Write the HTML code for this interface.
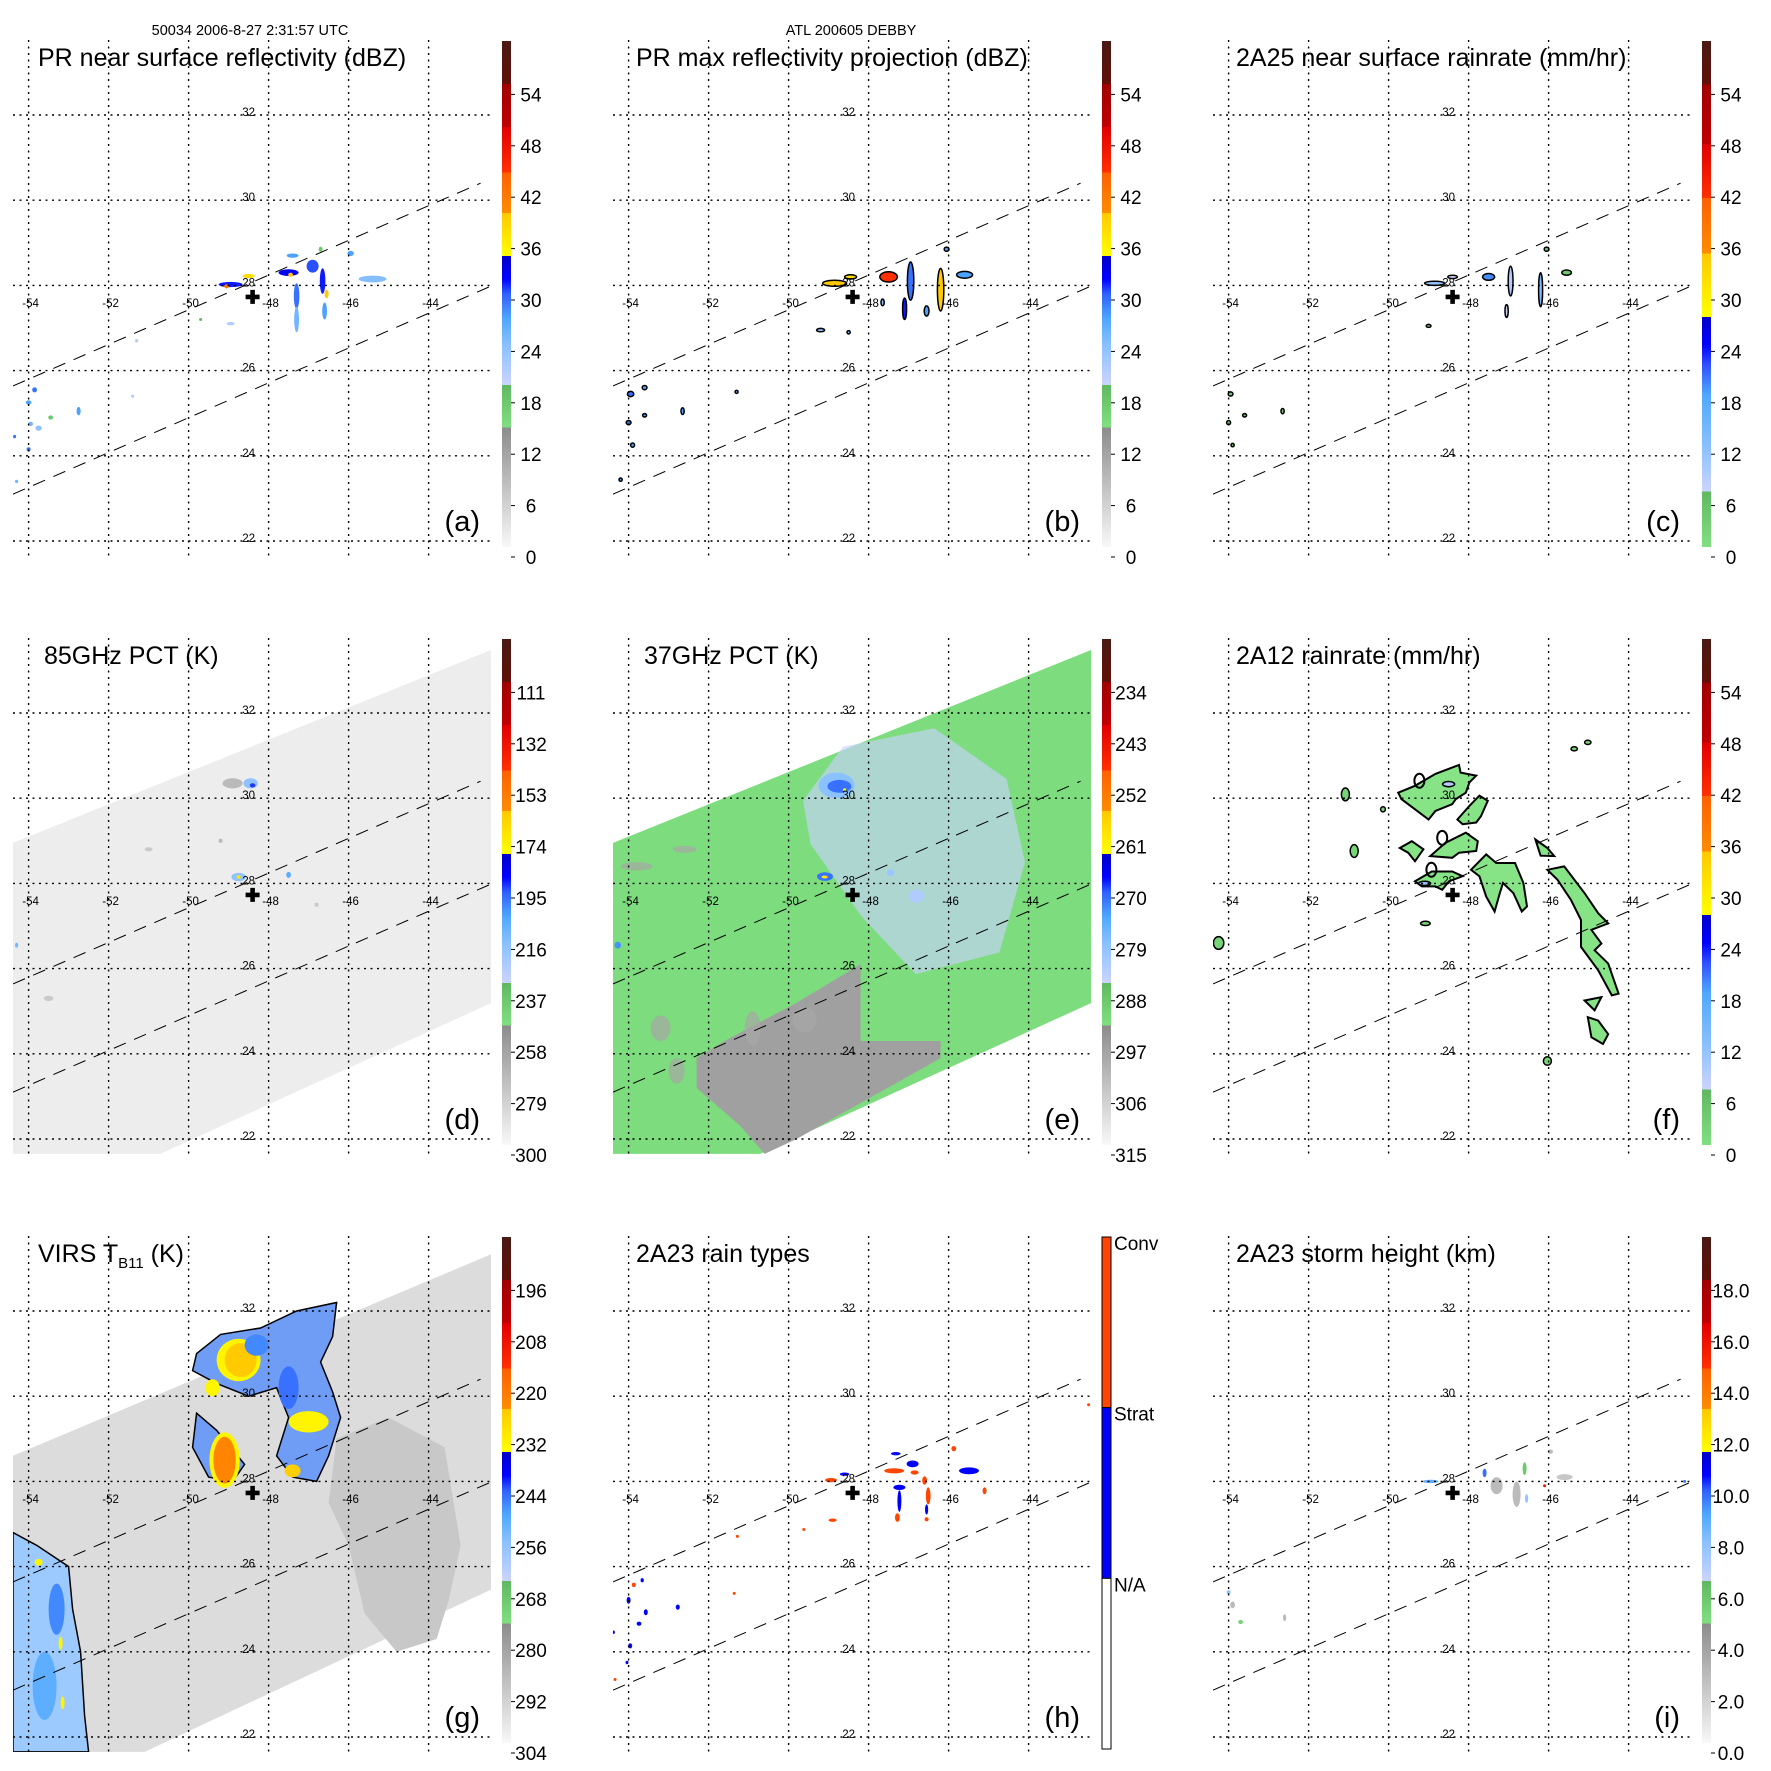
<!DOCTYPE html>
<html><head><meta charset="utf-8"><title>DEBBY TRMM overpass</title>
<style>
html,body{margin:0;padding:0;background:#fff}
svg{display:block}
text{font-family:"Liberation Sans",Arial,sans-serif;fill:#000}
</style></head>
<body>
<svg id="fig" width="1771" height="1771" viewBox="0 0 1771 1771" xmlns="http://www.w3.org/2000/svg">
<defs id="defs"></defs>
<text x="250" y="35" font-size="14.5" text-anchor="middle">50034 2006-8-27 2:31:57 UTC</text>
<text x="851" y="35" font-size="14.5" text-anchor="middle">ATL 200605 DEBBY</text>
<g id="panels"></g>
<g id="titles">
<text x="38" y="66" font-size="25">PR near surface reflectivity (dBZ)</text>
<text x="636" y="66" font-size="25">PR max reflectivity projection (dBZ)</text>
<text x="1236" y="66" font-size="25">2A25 near surface rainrate (mm/hr)</text>
<text x="44" y="664" font-size="25">85GHz PCT (K)</text>
<text x="644" y="664" font-size="25">37GHz PCT (K)</text>
<text x="1236" y="664" font-size="25">2A12 rainrate (mm/hr)</text>
<text x="38" y="1262" font-size="25">VIRS T<tspan font-size="15" dy="6">B11</tspan><tspan dy="-6"> (K)</tspan></text>
<text x="636" y="1262" font-size="25">2A23 rain types</text>
<text x="1236" y="1262" font-size="25">2A23 storm height (km)</text>
</g>
</svg>
<script>
// ---------- axis ticks ----------
const lonTicks=[-54,-52,-50,-48,-46,-44];
const latTicks=[22,24,26,28,30,32];
const centerLonLat=[-48.4,27.73];
const swathUpper=[[-54.39,25.64],[-42.7,30.4]];
const swathLower=[[-54.39,23.1],[-42.4,28.0]];

// colorbar labels (bottom -> top)
const labelsDBZ=["0","6","12","18","24","30","36","42","48","54"];
const labels85=["300","279","258","237","216","195","174","153","132","111"];
const labels37=["315","306","297","288","279","270","261","252","243","234"];
const labelsVirs=["304","292","280","268","256","244","232","220","208","196"];
const labelsHt=["0.0","2.0","4.0","6.0","8.0","10.0","12.0","14.0","16.0","18.0"];
const labelsType=["N/A","Strat","Conv"];

// ---------- swath backgrounds (lon,lat) ----------
const tmiSwath=[[-54.39,28.95],[-42.44,33.48],[-42.44,25.19],[-50.71,21.65],[-54.39,21.65]];
const virsSwath=[[-54.39,28.6],[-42.44,33.33],[-42.44,25.46],[-51.1,21.65],[-54.39,21.65]];
const eGrayArea=[[-52.3,23.9],[-51.6,24.3],[-49.8,25.2],[-48.2,26.1],[-48.2,24.3],[-46.2,24.3],[-46.2,23.9],[-49.8,22],[-50.6,21.65],[-51.2,22.3],[-52.3,23.2]];
const eGraySpecks=[[-53.2,24.6,0.25,0.3],[-52.8,23.6,0.2,0.3],[-53.8,28.4,0.4,0.1],[-52.6,28.8,0.3,0.08],[-50.9,24.6,0.2,0.4],[-49.6,24.8,0.3,0.3]];
const eIceArea=[[-48.64,31.21],[-46.36,31.64],[-44.55,30.45],[-44.09,28.5],[-44.73,26.38],[-46.82,25.87],[-48.18,27.23],[-49.45,28.92],[-49.64,29.94]];
const gDarkArea=[[-46.3,29.0],[-45.0,29.5],[-43.6,28.8],[-43.2,26.5],[-43.5,25.2],[-43.8,24.3],[-44.8,24.0],[-45.6,24.9],[-46.0,26.5],[-46.5,27.5]];
const gCloudNorth=[[-49.8,31.0],[-49.2,31.45],[-48.2,31.6],[-47.3,32.0],[-46.3,32.2],[-46.4,31.4],[-46.7,30.8],[-46.4,30.1],[-46.2,29.5],[-46.5,28.6],[-46.8,28.0],[-47.4,28.1],[-47.8,28.6],[-47.5,29.5],[-47.8,30.2],[-48.5,30.0],[-49.3,30.3],[-49.9,30.6]];
const gCloudTail=[[-49.8,29.6],[-49.3,29.2],[-48.6,28.4],[-48.9,28.0],[-49.5,28.1],[-49.9,28.8]];
const gCloudWest=[[-54.39,26.8],[-53.8,26.5],[-53.0,26.0],[-52.9,25.0],[-52.7,24.0],[-52.6,22.5],[-52.5,21.65],[-54.39,21.65]];

// ---------- cells: [lon, lat, value, rxDeg, ryDeg] ----------
const aCells=[[-48.95,28.02,32,0.3,0.06],[-49.05,27.98,42,0.06,0.05],[-48.5,28.22,38,0.15,0.05],[-47.4,28.7,28,0.15,0.05],[-47.5,28.3,33,0.25,0.08],[-47.45,28.25,40,0.06,0.05],[-46.9,28.45,31,0.15,0.15],[-46.65,28.1,32,0.07,0.3],[-46.55,27.8,40,0.05,0.1],[-46.6,27.4,28,0.06,0.2],[-47.3,27.75,30,0.07,0.3],[-47.3,27.2,26,0.06,0.3],[-46.7,28.85,18,0.05,0.06],[-45.95,28.75,28,0.08,0.06],[-45.4,28.15,25,0.35,0.08],[-48.95,27.1,22,0.1,0.04],[-53.85,25.55,30,0.06,0.06],[-54.0,25.25,28,0.07,0.05],[-53.95,24.75,26,0.06,0.05],[-53.75,24.65,24,0.08,0.06],[-53.45,24.9,18,0.06,0.05],[-54.0,24.15,30,0.05,0.05],[-52.75,25.05,28,0.05,0.1],[-54.35,24.45,30,0.03,0.04],[-54.3,23.4,26,0.04,0.04],[-51.3,26.7,22,0.04,0.04],[-51.4,25.4,22,0.04,0.03],[-49.7,27.2,20,0.03,0.03]];
const bCells=[[-48.85,28.05,40,0.3,0.07],[-48.45,28.2,38,0.15,0.05],[-47.5,28.2,45,0.22,0.12],[-46.95,28.1,30,0.08,0.45],[-47.1,27.45,32,0.05,0.25],[-46.2,27.9,40,0.08,0.5],[-45.6,28.25,28,0.2,0.08],[-46.05,28.85,28,0.06,0.05],[-46.55,27.4,28,0.06,0.12],[-47.65,27.6,25,0.04,0.08],[-48.5,26.9,25,0.04,0.04],[-49.2,26.95,25,0.1,0.04],[-53.95,25.45,30,0.08,0.06],[-54.0,24.78,30,0.06,0.05],[-53.9,24.25,28,0.05,0.05],[-54.2,23.44,28,0.04,0.04],[-52.65,25.05,28,0.04,0.08],[-53.6,24.95,28,0.05,0.04],[-51.3,25.5,25,0.03,0.03],[-53.6,25.6,28,0.06,0.05]];
const cCells=[[-48.85,28.05,12,0.25,0.05],[-48.4,28.2,8,0.12,0.04],[-47.5,28.2,20,0.15,0.08],[-46.95,28.1,10,0.06,0.35],[-46.2,27.9,14,0.05,0.4],[-45.55,28.3,5,0.12,0.06],[-46.05,28.85,5,0.06,0.05],[-47.05,27.4,8,0.04,0.15],[-53.95,25.45,5,0.06,0.05],[-54.0,24.78,5,0.05,0.05],[-53.9,24.25,5,0.04,0.04],[-52.65,25.05,5,0.04,0.06],[-53.6,24.95,5,0.05,0.04],[-49.0,27.05,5,0.06,0.03]];
const dCells=[[-48.9,30.35,268,0.25,0.12],[-48.45,30.35,215,0.18,0.12],[-48.4,30.3,190,0.07,0.05],[-48.75,28.15,215,0.18,0.1],[-48.75,28.15,170,0.05,0.04],[-47.5,28.2,205,0.06,0.07],[-54.3,26.55,210,0.04,0.06],[-49.2,29.0,268,0.05,0.05],[-51.0,28.8,275,0.1,0.05],[-46.8,27.5,275,0.05,0.05],[-53.5,25.3,275,0.12,0.06]];
const eCells=[[-48.8,30.3,278,0.45,0.3],[-48.73,30.28,270,0.3,0.15],[-48.6,30.2,262,0.04,0.03],[-49.09,28.16,270,0.2,0.1],[-49.1,28.15,258,0.08,0.03],[-47.45,28.25,280,0.1,0.08],[-46.8,27.7,282,0.2,0.15],[-54.27,26.55,272,0.08,0.08]];
const gCells=[[-48.75,30.85,232,0.55,0.5],[-48.7,30.85,224,0.4,0.4],[-49.1,28.5,232,0.38,0.65],[-49.1,28.5,222,0.28,0.55],[-47.0,29.4,232,0.5,0.25],[-47.4,28.25,225,0.2,0.15],[-49.4,30.2,232,0.18,0.2],[-47.5,30.2,244,0.25,0.5],[-48.3,31.2,246,0.3,0.25],[-53.75,26.1,232,0.1,0.08],[-53.2,24.2,232,0.05,0.15],[-53.15,22.8,232,0.05,0.15],[-53.3,25.0,246,0.2,0.6],[-53.6,23.2,250,0.3,0.8]];
const hCells=[[-48.94,28.03,2,0.15,0.05],[-48.6,28.17,1,0.12,0.04],[-47.36,28.25,2,0.25,0.06],[-47.32,28.65,1,0.12,0.04],[-46.9,28.41,1,0.15,0.08],[-46.85,28.21,2,0.1,0.05],[-47.23,27.86,1,0.15,0.06],[-47.23,27.54,1,0.05,0.25],[-46.6,28.02,2,0.06,0.1],[-46.51,27.66,2,0.06,0.2],[-46.55,27.34,1,0.04,0.12],[-45.87,28.77,2,0.06,0.06],[-45.49,28.25,1,0.25,0.08],[-45.1,27.78,2,0.05,0.08],[-48.9,27.09,2,0.1,0.04],[-47.28,27.15,2,0.06,0.1],[-46.55,27.11,2,0.05,0.05],[-49.62,26.87,2,0.03,0.03],[-51.28,26.71,2,0.03,0.03],[-51.36,25.37,2,0.03,0.03],[-53.87,25.57,2,0.05,0.05],[-54.0,25.21,1,0.05,0.08],[-53.57,24.93,1,0.05,0.07],[-53.74,24.66,1,0.06,0.05],[-52.77,25.05,1,0.05,0.06],[-53.96,24.14,1,0.05,0.06],[-54.38,24.46,1,0.03,0.04],[-54.04,23.75,1,0.03,0.04],[-54.34,23.35,2,0.03,0.03],[-53.66,25.68,1,0.04,0.05],[-42.5,29.8,2,0.02,0.02],[-42.3,28.3,1,0.02,0.02]];
const iCells=[[-48.95,28.0,9,0.2,0.04],[-47.3,27.9,3,0.15,0.2],[-47.6,28.2,10,0.05,0.1],[-46.8,27.7,3,0.1,0.3],[-46.6,28.3,6,0.05,0.15],[-45.6,28.1,2.5,0.2,0.07],[-46.55,27.6,8,0.04,0.1],[-45.95,28.7,3,0.06,0.05],[-53.9,25.1,3,0.06,0.08],[-53.7,24.7,5.5,0.06,0.05],[-54.0,25.4,8,0.05,0.05],[-52.6,24.8,3,0.04,0.08],[-42.6,28.0,10,0.02,0.02],[-46.1,27.9,16,0.02,0.02]];

// ---------- 2A12 rain polygons (lon,lat) ----------
const fPolys=[
[[-49.76,30.13],[-49.34,30.29],[-48.83,30.57],[-48.24,30.78],[-48.2,30.6],[-47.81,30.53],[-47.98,30.37],[-48.07,30.13],[-48.32,29.98],[-48.41,29.86],[-48.83,29.7],[-49.0,29.5],[-49.34,29.74],[-49.68,29.98]],
[[-48.28,29.5],[-47.98,29.82],[-47.73,30.06],[-47.52,29.94],[-47.69,29.58],[-47.81,29.43],[-48.15,29.39]],
[[-48.96,28.64],[-48.58,28.95],[-48.07,29.19],[-47.77,28.99],[-47.81,28.76],[-48.24,28.72],[-48.41,28.6]],
[[-49.72,28.83],[-49.42,28.99],[-49.13,28.8],[-49.34,28.52],[-49.51,28.72]],
[[-49.34,28.05],[-48.92,28.28],[-48.41,28.28],[-48.15,28.17],[-48.49,28.05],[-48.66,27.85],[-48.83,27.93],[-49.17,27.93]],
[[-47.94,28.32],[-47.56,28.68],[-47.31,28.48],[-46.84,28.48],[-46.63,28.01],[-46.54,27.46],[-46.67,27.34],[-46.88,27.77],[-47.14,28.01],[-47.22,27.77],[-47.35,27.34],[-47.56,27.69],[-47.73,28.17]],
[[-46.03,28.32],[-45.61,28.4],[-45.1,27.77],[-44.76,27.3],[-44.51,27.06],[-44.93,26.91],[-44.68,26.59],[-44.85,26.43],[-44.51,26.12],[-44.25,25.41],[-44.42,25.37],[-44.76,25.96],[-45.19,26.51],[-45.19,27.14],[-45.44,27.61],[-45.78,28.09]],
[[-46.33,29.03],[-46.03,28.83],[-45.86,28.64],[-46.2,28.65]],
[[-45.02,24.86],[-44.76,24.78],[-44.51,24.46],[-44.64,24.23],[-44.93,24.39]],
[[-45.1,25.25],[-44.68,25.33],[-44.85,25.02]]];
// small rain cells [lon, lat, value, rxDeg, ryDeg]
const fCells=[[-51.08,30.09,3,0.1,0.15],[-50.86,28.76,3,0.1,0.15],[-50.14,29.74,3,0.06,0.06],[-49.08,27.06,3,0.12,0.05],[-46.03,23.83,3,0.1,0.1],[-45.02,31.31,3,0.08,0.05],[-45.36,31.16,3,0.08,0.05],[-54.25,26.6,3,0.13,0.15],[-48.5,30.33,10,0.15,0.06],[-49.1,28.0,12,0.15,0.05]];
const fRings=[[-49.23,30.41],[-48.66,29.07],[-48.93,28.32]];

// ---------- colormaps ----------
const cmapA=[[0,'#f8f8f8'],[0.236,'#8c8c8c'],[0.236,'#80e080'],[0.32,'#60b860'],[0.32,'#ccd4ff'],[0.4,'#88c0ff'],[0.45,'#50a8ff'],[0.5,'#3060ff'],[0.53,'#0000ff'],[0.575,'#0000c8'],[0.575,'#ffff00'],[0.66,'#ffc800'],[0.66,'#ff8c00'],[0.74,'#ff6000'],[0.74,'#ff3000'],[0.83,'#e00000'],[0.83,'#c00000'],[0.915,'#a00000'],[0.915,'#601008'],[1,'#4a1a14']];
const cmapB=[[0,'#80e080'],[0.11,'#60b860'],[0.11,'#ccd4ff'],[0.2,'#88c0ff'],[0.3,'#50a8ff'],[0.36,'#3050ff'],[0.4,'#0000ff'],[0.455,'#0000c8'],[0.455,'#ffff00'],[0.58,'#ffc800'],[0.58,'#ff8c00'],[0.69,'#ff6000'],[0.69,'#ff3000'],[0.795,'#e00000'],[0.795,'#c00000'],[0.914,'#a00000'],[0.914,'#601008'],[1,'#4a1a14']];
const typeColors=['#ffffff','#0000ff','#ff4500'];

const NS='http://www.w3.org/2000/svg';
const COLW=600, ROWH=598;
const PL=13, PR=493, PT=40, PB=556;
const BARX=502, BARW=9, BART=41, BARB=547;

function hex2rgb(h){return [parseInt(h.substr(1,2),16),parseInt(h.substr(3,2),16),parseInt(h.substr(5,2),16)];}
function cmapColor(cm,f){
  f=Math.max(0,Math.min(1,f));
  for(let i=0;i<cm.length-1;i++){
    const a=cm[i],b=cm[i+1];
    if(f>=a[0]&&f<=b[0]){
      if(b[0]===a[0]) continue;
      const t=(f-a[0])/(b[0]-a[0]);const ca=hex2rgb(a[1]),cb=hex2rgb(b[1]);
      return 'rgb('+ca.map((v,k)=>Math.round(v+(cb[k]-v)*t)).join(',')+')';
    }
  }
  return cm[cm.length-1][1];
}
function mk(tag,attrs,parent){const e=document.createElementNS(NS,tag);for(const k in attrs)e.setAttribute(k,attrs[k]);parent.appendChild(e);return e;}

const panels=[
 {id:'a',col:0,row:0,labels:labelsDBZ,cmap:cmapA,cells:aCells},
 {id:'b',col:1,row:0,labels:labelsDBZ,cmap:cmapA,cells:bCells,outline:true},
 {id:'c',col:2,row:0,labels:labelsDBZ,cmap:cmapB,cells:cCells,outline:true},
 {id:'d',col:0,row:1,labels:labels85,cmap:cmapA,cells:dCells,swath:tmiSwath,swathFill:'#ededed'},
 {id:'e',col:1,row:1,labels:labels37,cmap:cmapA,cells:eCells,swath:tmiSwath,swathFill:'#7ddc7d'},
 {id:'f',col:2,row:1,labels:labelsDBZ,cmap:cmapB,cells:fCells,outline:true},
 {id:'g',col:0,row:2,labels:labelsVirs,cmap:cmapA,cells:gCells,swath:virsSwath,swathFill:'#dcdcdc'},
 {id:'h',col:1,row:2,labels:labelsType,cells:hCells,type:true},
 {id:'i',col:2,row:2,labels:labelsHt,cmap:cmapA,cells:iCells}
];

const root=document.getElementById('panels');
const defs=document.getElementById('defs');

panels.forEach(p=>{
  const ox=p.col*COLW, oy=p.row*ROWH;
  const X=lon=>ox+28.6+(lon+54)*40;
  const Y=lat=>oy+541-(lat-22)*42.6;
  const RX=d=>d*40, RY=d=>d*42.6;
  const pts=arr=>arr.map(q=>X(q[0]).toFixed(1)+','+Y(q[1]).toFixed(1)).join(' ');
  const lab=p.labels;
  const fracOf=v=>{const l0=parseFloat(lab[0]),l1=parseFloat(lab[1]);const k=(v-l0)/(l1-l0);const y=557-51.4*k;return (BARB-y)/(BARB-BART);};
  const colorOf=v=>p.type?typeColors[v]:cmapColor(p.cmap,fracOf(v));

  const g=mk('g',{},root);
  
  
  const cp=mk('clipPath',{id:'clip-'+p.id},defs);
  mk('rect',{x:ox+PL,y:oy+PT,width:PR-PL,height:PB-PT},cp);
  const map=mk('g',{'clip-path':'url(#clip-'+p.id+')'},g);
  
  

  if(p.swath){
    const s=mk('polygon',{points:pts(p.swath),fill:p.swathFill},map);
    
    
  }
  if(p.id==='e'){
    const gr=mk('polygon',{points:pts(eGrayArea),fill:'#a0a0a0'},map);
    
    
    eGraySpecks.forEach(s=>{
      const e=mk('ellipse',{cx:X(s[0]),cy:Y(s[1]),rx:RX(s[2]),ry:RY(s[3]),fill:'#a6a6a6',opacity:'0.7'},map);
      
      
    });
    const ic=mk('polygon',{points:pts(eIceArea),fill:'#c8d3ff',opacity:'0.65'},map);
    
    
  }
  if(p.id==='g'){
    const dk=mk('polygon',{points:pts(gDarkArea),fill:'#c8c8c8'},map);
    
    
    [gCloudNorth,gCloudTail,gCloudWest].forEach((poly,i)=>{
      const c=mk('polygon',{points:pts(poly),fill:i===2?'#9ccaff':'#6f9cf5',stroke:'#000','stroke-width':'1.5'},map);
      
      
    });
  }
  if(p.id==='f'){
    fPolys.forEach(poly=>{
      const c=mk('polygon',{points:pts(poly),fill:'#86e486',stroke:'#000','stroke-width':'2'},map);
      
      
    });
  }
  p.cells.forEach(c=>{
    const e=mk('ellipse',{cx:X(c[0]).toFixed(1),cy:Y(c[1]).toFixed(1),rx:Math.max(1.5,RX(c[3])).toFixed(1),ry:Math.max(1.5,RY(c[4])).toFixed(1),fill:colorOf(c[2])},map);
    if(p.outline){e.setAttribute('stroke','#000');e.setAttribute('stroke-width','1.5');}
    
    
  });
  if(p.id==='f'){
    fRings.forEach(r=>{
      const e=mk('ellipse',{cx:X(r[0]),cy:Y(r[1]),rx:5,ry:7,fill:'none',stroke:'#000','stroke-width':'2'},map);
      
      
    });
  }

  // grid
  lonTicks.forEach(lon=>{
    const l=mk('line',{x1:X(lon),x2:X(lon),y1:oy+PT,y2:oy+PB,stroke:'#000','stroke-width':'1.4','stroke-dasharray':'2 4.5'},g);
    
    
    const t=mk('text',{x:X(lon)+2,y:oy+307,'font-size':'11.5','text-anchor':'middle'},g);
    t.textContent=String(lon);
    
    
  });
  latTicks.forEach(lat=>{
    const l=mk('line',{x1:ox+PL,x2:ox+PR,y1:Y(lat),y2:Y(lat),stroke:'#000','stroke-width':'1.4','stroke-dasharray':'2 4.5'},g);
    
    
    const t=mk('text',{x:X(-48.5),y:Y(lat)+1,'font-size':'11.5','text-anchor':'middle'},g);
    t.textContent=String(lat);
    
    
  });
  // swath edges
  [swathUpper,swathLower].forEach(sw=>{
    const l=mk('line',{x1:X(sw[0][0]),y1:Y(sw[0][1]),x2:X(sw[1][0]),y2:Y(sw[1][1]),stroke:'#000','stroke-width':'1','stroke-dasharray':'13 9'},map);
    
    
  });
  // storm center
  const cx=X(centerLonLat[0]), cy=Y(centerLonLat[1]);
  const cr=mk('path',{d:`M${cx-7},${cy-2.3}h14v4.6h-14z M${cx-2.3},${cy-7}h4.6v14h-4.6z`,fill:'#000'},g);
  
  
  // panel letter
  const pl=mk('text',{x:ox+480,y:oy+531,'font-size':'29','text-anchor':'end'},g);
  pl.textContent='('+p.id+')';
  
  

  // colorbar
  const cb=mk('g',{},g);
  
  
  if(p.type){
    const h=(BARB+6-BART)/3;
    [2,1,0].forEach((k,i)=>{
      const r=mk('rect',{x:ox+BARX,y:oy+BART+i*h,width:BARW,height:h,fill:typeColors[k],stroke:'#000','stroke-width':'1'},cb);
      
      
    });
    lab.forEach((s,k)=>{
      const t=mk('text',{x:ox+BARX+BARW+3,y:oy+BART+(2-k)*h+13,'font-size':'19'},cb);
      t.textContent=s;
      
      
    });
  } else {
    const gid='grad-'+p.id;
    const lg=mk('linearGradient',{id:gid,x1:'0',y1:'1',x2:'0',y2:'0'},defs);
    p.cmap.forEach(s=>mk('stop',{offset:s[0],'stop-color':s[1]},lg));
    const r=mk('rect',{x:ox+BARX,y:oy+BART,width:BARW,height:BARB-BART,fill:'url(#'+gid+')'},cb);
    
    
    lab.forEach((s,k)=>{
      const y=oy+557-51.4*k;
      mk('line',{x1:ox+BARX+BARW,x2:ox+BARX+BARW+4,y1:y,y2:y,stroke:'#000','stroke-width':'1'},cb);
      const t=mk('text',{x:ox+531,y:y+7,'font-size':'19','text-anchor':'middle'},cb);
      t.textContent=s;
      
      
    });
  }
});
</script>
</body></html>
